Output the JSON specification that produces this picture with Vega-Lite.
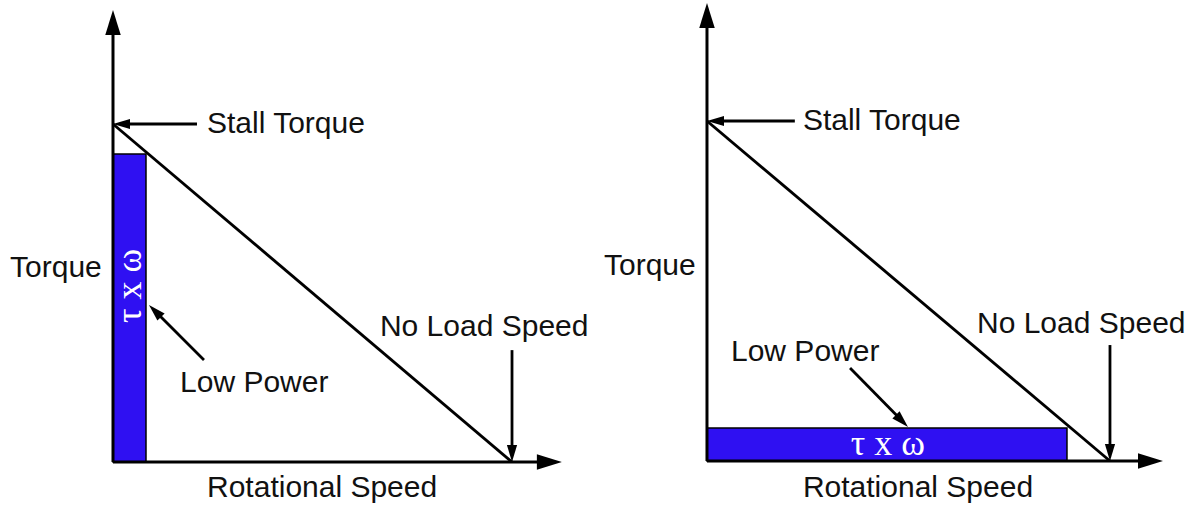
{
  "$schema": "https://vega.github.io/schema/vega-lite/v6.json",
  "padding": 0,
  "spacing": 0,
  "bounds": "flush",
  "background": "white",
  "config": {"view": {"stroke": null}, "text": {"font": "Liberation Sans"}},
  "datasets": {
    "segs": [
      {"panel": "left", "kind": "axis", "s0": 0, "t0": 0, "s1": 0, "t1": 1.28},
      {"panel": "left", "kind": "axis", "s0": 0, "t0": 0, "s1": 1.08, "t1": 0},
      {"panel": "left", "kind": "curve", "s0": 0, "t0": 1, "s1": 1, "t1": 0},
      {"panel": "left", "kind": "note", "s0": 0.2105, "t0": 1, "s1": 0.02, "t1": 1},
      {"panel": "left", "kind": "note", "s0": 1, "t0": 0.331, "s1": 1, "t1": 0.024},
      {"panel": "left", "kind": "note", "s0": 0.228, "t0": 0.302, "s1": 0.104, "t1": 0.448},
      {"panel": "right", "kind": "axis", "s0": 0, "t0": 0, "s1": 0, "t1": 1.29},
      {"panel": "right", "kind": "axis", "s0": 0, "t0": 0, "s1": 1.08, "t1": 0},
      {"panel": "right", "kind": "curve", "s0": 0, "t0": 1, "s1": 1, "t1": 0},
      {"panel": "right", "kind": "note", "s0": 0.218, "t0": 1, "s1": 0.02, "t1": 1},
      {"panel": "right", "kind": "note", "s0": 1, "t0": 0.341, "s1": 1, "t1": 0.024},
      {"panel": "right", "kind": "note", "s0": 0.355, "t0": 0.2735, "s1": 0.485, "t1": 0.1166}
    ],
    "heads": [
      {"panel": "left", "kind": "axis", "s": 0, "t": 1.337, "dir": "up"},
      {"panel": "left", "kind": "axis", "s": 1.125, "t": 0, "dir": "right"},
      {"panel": "left", "kind": "note", "s": 0, "t": 1, "dir": "left"},
      {"panel": "left", "kind": "note", "s": 1, "t": 0, "dir": "down"},
      {"panel": "left", "kind": "note", "s": 0.0902, "t": 0.4645, "dir": "upleft"},
      {"panel": "right", "kind": "axis", "s": 0, "t": 1.347, "dir": "up"},
      {"panel": "right", "kind": "axis", "s": 1.1315, "t": 0, "dir": "right"},
      {"panel": "right", "kind": "note", "s": 0, "t": 1, "dir": "left"},
      {"panel": "right", "kind": "note", "s": 1, "t": 0, "dir": "down"},
      {"panel": "right", "kind": "note", "s": 0.4988, "t": 0.1, "dir": "downright"}
    ],
    "labels": [
      {"panel": "left", "label": "Stall Torque", "s": 0.2356, "t": 1.0},
      {"panel": "left", "label": "Torque", "s": -0.258, "t": 0.574},
      {"panel": "left", "label": "No Load Speed", "s": 0.669, "t": 0.3994},
      {"panel": "left", "label": "Low Power", "s": 0.168, "t": 0.2337},
      {"panel": "left", "label": "Rotational Speed", "s": 0.2356, "t": -0.0769},
      {"panel": "right", "label": "Stall Torque", "s": 0.238, "t": 1.0},
      {"panel": "right", "label": "Torque", "s": -0.2556, "t": 0.5735},
      {"panel": "right", "label": "No Load Speed", "s": 0.67, "t": 0.403},
      {"panel": "right", "label": "Low Power", "s": 0.0596, "t": 0.3206},
      {"panel": "right", "label": "Rotational Speed", "s": 0.238, "t": -0.0794}
    ],
    "power": [
      {"panel": "left", "label": "τ x ω", "s0": 0, "s1": 0.0827, "t0": 0, "t1": 0.911, "sc": 0.0426, "tc": 0.5207},
      {"panel": "right", "label": "τ x ω", "s0": 0, "s1": 0.8933, "t0": 0, "t1": 0.097, "sc": 0.449, "tc": 0.05}
    ]
  },
  "hconcat": [
    {
      "width": 596,
      "height": 506,
      "layer": [
        {
          "data": {"name": "power"},
          "transform": [{"filter": "datum.panel === 'left'"}],
          "mark": {"type": "rect", "fill": "#2f10f2", "stroke": "#000", "strokeWidth": 1.5},
          "encoding": {
            "x": {"field": "s0", "type": "quantitative", "scale": {"domain": [-0.2832, 1.2105], "nice": false, "zero": false}, "axis": null},
            "x2": {"field": "s1"},
            "y": {"field": "t0", "type": "quantitative", "scale": {"domain": [-0.1302, 1.3669], "nice": false, "zero": false}, "axis": null},
            "y2": {"field": "t1"}
          }
        },
        {
          "data": {"name": "segs"},
          "transform": [{"filter": "datum.panel === 'left'"}],
          "mark": {"type": "rule", "color": "#000", "strokeCap": "butt"},
          "encoding": {
            "x": {"field": "s0", "type": "quantitative", "axis": null},
            "x2": {"field": "s1"},
            "y": {"field": "t0", "type": "quantitative", "axis": null},
            "y2": {"field": "t1"},
            "strokeWidth": {"field": "kind", "type": "nominal", "scale": {"domain": ["axis", "curve", "note"], "range": [3, 2.8, 1.7]}, "legend": null}
          }
        },
        {
          "data": {"name": "heads"},
          "transform": [{"filter": "datum.panel === 'left'"}],
          "mark": {"type": "point", "filled": true, "color": "#000", "opacity": 1, "strokeWidth": 0},
          "encoding": {
            "x": {"field": "s", "type": "quantitative", "axis": null},
            "y": {"field": "t", "type": "quantitative", "axis": null},
            "shape": {"field": "dir", "type": "nominal", "scale": {"domain": ["up", "right", "down", "left", "upleft", "downright"], "range": ["M0,0L0.62,2L-0.62,2Z", "M0,0L-2,0.62L-2,-0.62Z", "M0,0L0.6,-2L-0.6,-2Z", "M0,0L2,0.6L2,-0.6Z", "M0,0L1.838,0.99L0.99,1.838Z", "M0,0L-1.838,-0.99L-0.99,-1.838Z"]}, "legend": null},
            "size": {"field": "kind", "type": "nominal", "scale": {"domain": ["axis", "note"], "range": [625, 289]}, "legend": null}
          }
        },
        {
          "data": {"name": "labels"},
          "transform": [{"filter": "datum.panel === 'left'"}],
          "mark": {"type": "text", "align": "left", "baseline": "middle", "fontSize": 30, "color": "#111"},
          "encoding": {
            "x": {"field": "s", "type": "quantitative", "axis": null},
            "y": {"field": "t", "type": "quantitative", "axis": null},
            "text": {"field": "label"}
          }
        },
        {
          "data": {"name": "power"},
          "transform": [{"filter": "datum.panel === 'left'"}],
          "mark": {"type": "text", "align": "center", "baseline": "middle", "fontSize": 36, "font": "Liberation Serif", "color": "#fff", "angle": 270},
          "encoding": {
            "x": {"field": "sc", "type": "quantitative", "axis": null},
            "y": {"field": "tc", "type": "quantitative", "axis": null},
            "text": {"field": "label"}
          }
        }
      ]
    },
    {
      "width": 597,
      "height": 506,
      "layer": [
        {
          "data": {"name": "power"},
          "transform": [{"filter": "datum.panel === 'right'"}],
          "mark": {"type": "rect", "fill": "#2f10f2", "stroke": "#000", "strokeWidth": 1.5},
          "encoding": {
            "x": {"field": "s0", "type": "quantitative", "scale": {"domain": [-0.2754, 1.206], "nice": false, "zero": false}, "axis": null},
            "x2": {"field": "s1"},
            "y": {"field": "t0", "type": "quantitative", "scale": {"domain": [-0.1324, 1.3559], "nice": false, "zero": false}, "axis": null},
            "y2": {"field": "t1"}
          }
        },
        {
          "data": {"name": "segs"},
          "transform": [{"filter": "datum.panel === 'right'"}],
          "mark": {"type": "rule", "color": "#000", "strokeCap": "butt"},
          "encoding": {
            "x": {"field": "s0", "type": "quantitative", "axis": null},
            "x2": {"field": "s1"},
            "y": {"field": "t0", "type": "quantitative", "axis": null},
            "y2": {"field": "t1"},
            "strokeWidth": {"field": "kind", "type": "nominal", "scale": {"domain": ["axis", "curve", "note"], "range": [3, 2.8, 1.7]}, "legend": null}
          }
        },
        {
          "data": {"name": "heads"},
          "transform": [{"filter": "datum.panel === 'right'"}],
          "mark": {"type": "point", "filled": true, "color": "#000", "opacity": 1, "strokeWidth": 0},
          "encoding": {
            "x": {"field": "s", "type": "quantitative", "axis": null},
            "y": {"field": "t", "type": "quantitative", "axis": null},
            "shape": {"field": "dir", "type": "nominal", "scale": {"domain": ["up", "right", "down", "left", "upleft", "downright"], "range": ["M0,0L0.62,2L-0.62,2Z", "M0,0L-2,0.62L-2,-0.62Z", "M0,0L0.6,-2L-0.6,-2Z", "M0,0L2,0.6L2,-0.6Z", "M0,0L1.838,0.99L0.99,1.838Z", "M0,0L-1.838,-0.99L-0.99,-1.838Z"]}, "legend": null},
            "size": {"field": "kind", "type": "nominal", "scale": {"domain": ["axis", "note"], "range": [625, 289]}, "legend": null}
          }
        },
        {
          "data": {"name": "labels"},
          "transform": [{"filter": "datum.panel === 'right'"}],
          "mark": {"type": "text", "align": "left", "baseline": "middle", "fontSize": 30, "color": "#111"},
          "encoding": {
            "x": {"field": "s", "type": "quantitative", "axis": null},
            "y": {"field": "t", "type": "quantitative", "axis": null},
            "text": {"field": "label"}
          }
        },
        {
          "data": {"name": "power"},
          "transform": [{"filter": "datum.panel === 'right'"}],
          "mark": {"type": "text", "align": "center", "baseline": "middle", "fontSize": 36, "font": "Liberation Serif", "color": "#fff"},
          "encoding": {
            "x": {"field": "sc", "type": "quantitative", "axis": null},
            "y": {"field": "tc", "type": "quantitative", "axis": null},
            "text": {"field": "label"}
          }
        }
      ]
    }
  ]
}
